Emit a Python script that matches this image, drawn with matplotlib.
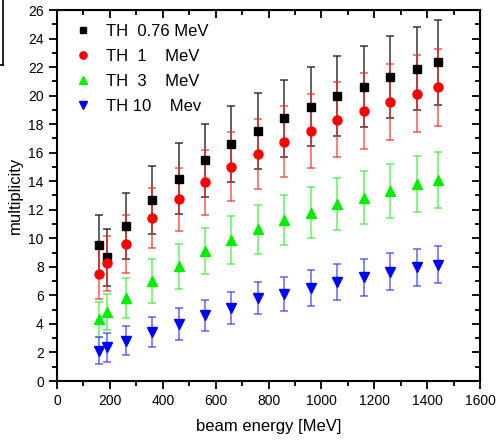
import matplotlib.pyplot as plt
from matplotlib.lines import Line2D
from matplotlib.ticker import MultipleLocator
import numpy as np

plt.rcParams['font.family'] = ['Liberation Sans', 'DejaVu Sans']

# beam energy [MeV]
energy = [160, 190, 260, 360, 460, 560, 660, 760, 860, 960, 1060, 1160, 1260, 1360, 1440]

# TH 0.76 MeV
mult_076 = [9.55, 8.67, 10.86, 12.68, 14.18, 15.46, 16.6, 17.52, 18.41, 19.22, 19.97, 20.62, 21.3, 21.89, 22.33]
err_076 = [2.05, 2.0, 2.3, 2.4, 2.5, 2.55, 2.65, 2.66, 2.71, 2.76, 2.83, 2.83, 2.87, 2.92, 2.97]

# TH 1 MeV
mult_1 = [7.52, 8.25, 9.6, 11.4, 12.73, 13.92, 15.02, 15.9, 16.77, 17.52, 18.31, 18.92, 19.58, 20.14, 20.58]
err_1 = [1.77, 1.93, 2.03, 2.1, 2.22, 2.3, 2.4, 2.45, 2.5, 2.57, 2.62, 2.64, 2.66, 2.72, 2.71]

# TH 3 MeV
mult_3 = [4.32, 4.86, 5.82, 7.03, 8.03, 9.09, 9.88, 10.63, 11.28, 11.8, 12.4, 12.85, 13.34, 13.8, 14.1]
err_3 = [1.25, 1.27, 1.4, 1.53, 1.57, 1.6, 1.68, 1.7, 1.75, 1.8, 1.8, 1.85, 1.9, 1.95, 1.97]

# TH 10 Mev
mult_10 = [2.12, 2.36, 2.82, 3.41, 3.99, 4.6, 5.12, 5.82, 6.1, 6.54, 6.96, 7.27, 7.66, 7.96, 8.15]
err_10 = [0.93, 1.0, 1.0, 1.05, 1.1, 1.1, 1.1, 1.15, 1.22, 1.25, 1.25, 1.3, 1.28, 1.3, 1.3]

fig = plt.figure(figsize=(4.97, 4.44), dpi=100)
ax = fig.add_axes([57 / 497, 63 / 444, 423 / 497, 371 / 444])

series = [
    (mult_076, err_076, 'black', (0.15, 0.15, 0.15, 0.85), 's', 6, 'TH  0.76 MeV'),
    (mult_1, err_1, 'red', (1.0, 0.15, 0.15, 0.7), 'o', 6.5, 'TH  1    MeV'),
    (mult_3, err_3, '#00ee00', (0.25, 0.95, 0.25, 0.75), '^', 7, 'TH  3    MeV'),
    (mult_10, err_10, 'blue', (0.25, 0.25, 1.0, 0.75), 'v', 7, 'TH 10    Mev'),
]
handles = []
for y, e, col, ecol, mk, ms, lab in series:
    ax.errorbar(energy, y, yerr=e, fmt=mk, color=col, ecolor=ecol, ms=ms,
                mec=col, elinewidth=1.2, capsize=3, capthick=1.2)
    handles.append(Line2D([], [], ls='none', marker=mk, color=col, ms=ms * 0.8, label=lab))

ax.set_xlim(0, 1600)
ax.set_ylim(0, 26)
ax.xaxis.set_major_locator(MultipleLocator(200))
ax.xaxis.set_minor_locator(MultipleLocator(100))
ax.yaxis.set_major_locator(MultipleLocator(2))
ax.yaxis.set_minor_locator(MultipleLocator(1))
ax.tick_params(which='major', direction='out', length=6, width=1.3, labelsize=10)
ax.tick_params(which='minor', direction='out', length=3.5, width=1.3)
for s in ax.spines.values():
    s.set_linewidth(1.5)

# inward ticks on top and right
top = ax.secondary_xaxis('top')
top.xaxis.set_major_locator(MultipleLocator(200))
top.xaxis.set_minor_locator(MultipleLocator(100))
top.tick_params(which='major', direction='in', length=6, width=1.3, labeltop=False)
top.tick_params(which='minor', direction='in', length=3.5, width=1.3)
right = ax.secondary_yaxis('right')
right.yaxis.set_major_locator(MultipleLocator(2))
right.yaxis.set_minor_locator(MultipleLocator(1))
right.tick_params(which='major', direction='in', length=6, width=1.3, labelright=False)
right.tick_params(which='minor', direction='in', length=3.5, width=1.3)

ax.set_xlabel('beam energy [MeV]', fontsize=12, labelpad=8)
ax.set_ylabel('multiplicity', fontsize=12, labelpad=4)

ax.legend(handles=handles, loc='upper left', bbox_to_anchor=(0.022, 0.995), frameon=False,
          fontsize=12, handlelength=0.6, handletextpad=1.1,
          labelspacing=0.6, borderpad=0.2)

# clipped frame fragment at the top-left corner
fig.add_artist(Line2D([3 / 497, 3 / 497], [1, 1 - 65 / 444], color='black', lw=1.2))
fig.add_artist(Line2D([0, 3 / 497], [1 - 65 / 444, 1 - 65 / 444], color='black', lw=1.2))

fig.savefig('out.png', dpi=100)
